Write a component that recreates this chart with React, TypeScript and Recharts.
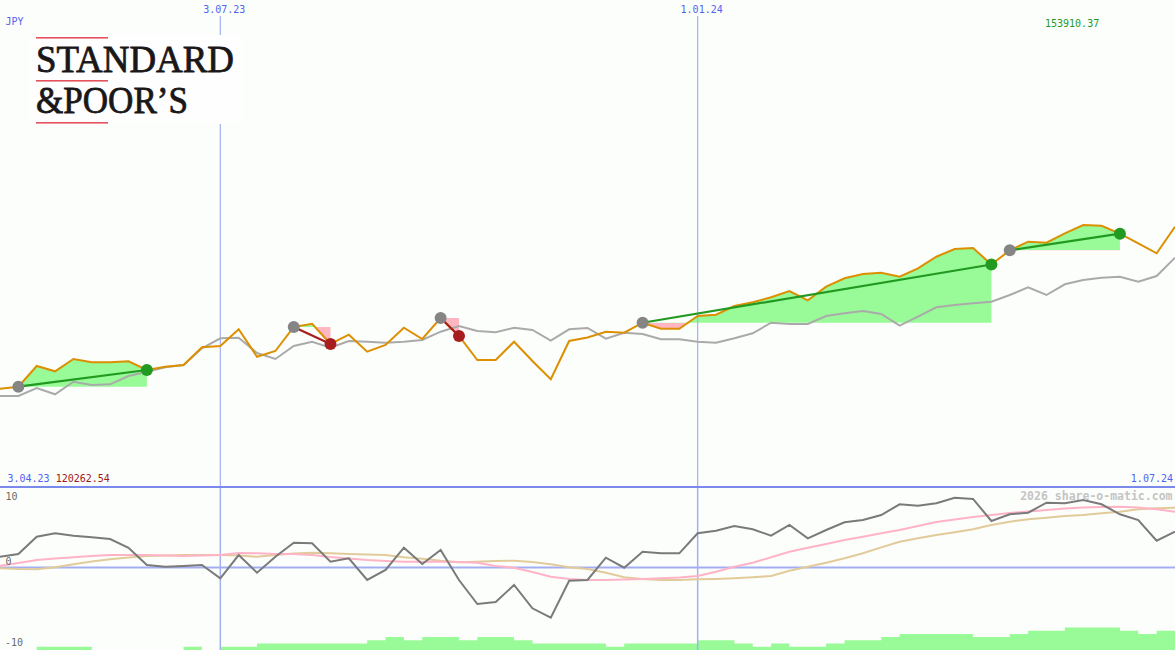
import React from 'react';
import { ComposedChart, Line, Area, XAxis, YAxis, ReferenceLine } from 'recharts';

// ---- data (weekly points, index 0 = 3.04.23, index 64 = 1.07.24) ----
const closePrice = [
  127054, 127192, 128623, 128256, 129106, 128878, 128878, 128947, 128346, 128574,
  128692, 129915, 130005, 131158, 129265, 129659, 131317, 131545, 130143, 130785,
  129611, 130074, 131269, 130488, 131939, 130695, 129037, 129037, 130302, 128968,
  127704, 130350, 130592, 130993, 130923, 131614, 131200, 131200, 132077, 132167,
  132768, 133024, 133369, 133805, 133162, 134102, 134682, 134979, 135069, 134793,
  135373, 136174, 136706, 136776, 135636, 136617, 137211, 137142, 137791, 138365,
  138316, 137764, 137100, 136409, 138247,
];
const movingAverage = [
  126550, 126550, 127103, 126667, 127538, 127310, 127358, 127932, 128229, 128533,
  128692, 129846, 130537, 130578, 129521, 129106, 130005, 130302, 129887, 130350,
  130302, 130233, 130302, 130419, 130993, 131386, 131041, 130951, 131269, 131110,
  130371, 131158, 131248, 130509, 130923, 130834, 130467, 130467, 130302, 130233,
  130537, 130882, 131614, 131525, 131525, 132077, 132264, 132423, 132215, 131407,
  132029, 132678, 132837, 132955, 133065, 133528, 134060, 133528, 134267, 134565,
  134724, 134793, 134447, 134841, 136105,
];
const oscillator = [
  1.64, 2.05, 4.69, 5.21, 4.84, 4.6, 4.34, 3.01, 0.38, 0.12,
  0.23, 0.38, -1.64, 1.9, -0.79, 1.64, 3.77, 3.68, 0.88, 1.4,
  -1.9, -0.38, 3.01, 0.53, 2.66, -1.9, -5.56, -5.25, -2.66, -6.21,
  -7.63, -2.01, -1.9, 1.49, -0.03, 2.4, 2.16, 2.16, 5.21, 5.6,
  6.32, 5.81, 4.84, 6.47, 4.44, 5.71, 6.88, 7.23, 7.99, 9.62,
  9.41, 9.77, 10.62, 10.43, 7.08, 8.1, 8.34, 9.86, 9.77, 10.27,
  9.62, 8.1, 7.23, 4.08, 5.45,
];
const signalFast = [
  0.27, 0.68, 1.14, 1.37, 1.55, 1.75, 1.9, 1.9, 1.9, 1.83,
  1.75, 1.83, 1.9, 2.21, 2.16, 2.05, 2.05, 1.9, 1.6, 1.37,
  1.14, 0.99, 0.88, 0.88, 0.88, 0.84, 0.73, 0.23, -0.03, -0.68,
  -1.4, -1.75, -1.9, -1.9, -1.83, -1.75, -1.64, -1.52, -1.29, -0.64,
  0.12, 0.73, 1.55, 2.4, 3.01, 3.58, 4.19, 4.69, 5.21, 5.71,
  6.32, 6.93, 7.31, 7.69, 7.99, 8.3, 8.52, 8.75, 8.98, 9.13,
  9.21, 9.25, 9.13, 8.86, 8.49,
];
const signalSlow = [
  -0.12, -0.23, -0.27, 0.03, 0.49, 0.91, 1.25, 1.52, 1.75, 1.83,
  1.9, 1.9, 1.9, 1.83, 1.64, 1.9, 2.13, 2.25, 2.16, 2.05,
  1.98, 1.9, 1.55, 1.34, 1.03, 0.79, 0.88, 0.99, 1.03, 0.84,
  0.49, 0.03, -0.23, -0.79, -1.49, -1.75, -1.9, -1.9, -1.8, -1.75,
  -1.64, -1.49, -1.29, -0.49, 0.12, 0.73, 1.4, 2.16, 3.07, 3.93,
  4.44, 4.95, 5.36, 5.81, 6.47, 6.97, 7.34, 7.58, 7.84, 7.99,
  8.25, 8.49, 8.86, 9.01, 9.1,
];
const volumeLevel = [
  0, 0, 1, 1, 1, 0, 0, 0, 0, 0,
  1, 0, 1, 1, 2, 2, 2, 2, 2, 2,
  3, 4, 3, 4, 4, 3, 4, 4, 3, 2,
  2, 2, 2, 1, 2, 2, 2, 2, 3, 3,
  2, 1, 2, 1, 1, 2, 3, 3, 4, 5,
  5, 5, 5, 4, 4, 5, 6, 6, 7, 7,
  7, 6, 5, 6, 6,
];
// trades: buy / sell week index
const trades = [
  { buy: 1, sell: 8 },
  { buy: 16, sell: 18 },
  { buy: 24, sell: 25 },
  { buy: 35, sell: 54 },
  { buy: 55, sell: 61 },
];
const dateMarks = [
  { index: 12, label: '3.07.23' },
  { index: 38, label: '1.01.24' },
];
const startLabel = '3.04.23';
const endLabel = '1.07.24';
const currency = 'JPY';
const highLabel = '153910.37';
const lowLabel = '120262.54';
const oscLabels = ['10', '0', '-10'];
const watermark = '2026 share-o-matic.com';

// ---- layout constants ----
const W = 1175;
const TOP_H = 487;
const BOT_TOP = 488;
const BOT_H = 162;
const PRICE_DOMAIN: [number, number] = [120262.54, 152805.87];
const OSC_DOMAIN: [number, number] = [-12.557, 12.1];
const VOL_DOMAIN: [number, number] = [0, 50.3];
const LAST = closePrice.length - 1;

const BG = '#fcfefc';
const ORANGE = '#dc8f00';
const MA_GRAY = '#aaaaaa';
const WIN = '#229a22';
const LOSS = '#a61e1e';
const GREEN_FILL = '#98fb98';
const PINK_FILL = '#ffb6c1';
const VLINE = '#a2b0f2';
const FONT = '"DejaVu Sans Mono", monospace';
const LOGO_FONT = '"Liberation Serif", "Times New Roman", serif';

const tradeInfo = trades.map((t) => {
  const seg = closePrice.slice(t.buy, t.sell + 1);
  const buyPx = closePrice[t.buy];
  const hi = Math.max(...seg);
  const lo = Math.min(...seg);
  const off = hi === lo ? 0.5 : (hi - buyPx) / (hi - lo);
  return { ...t, buyPx, off, win: closePrice[t.sell] > buyPx };
});

const rows = closePrice.map((p, i) => {
  const row: any = {
    i,
    price: p,
    ma: movingAverage[i],
    osc: oscillator[i],
    fast: signalFast[i],
    slow: signalSlow[i],
    vol: volumeLevel[i],
  };
  tradeInfo.forEach((t, k) => {
    if (i >= t.buy && i <= t.sell) row['fill' + k] = [t.buyPx, p];
    if (i === t.buy || i === t.sell) row['trade' + k] = p;
  });
  return row;
});

const makeDot = (t: any) => (props: any) => {
  const { cx, cy, index } = props;
  if (cy == null || cx == null || (index !== t.buy && index !== t.sell)) {
    return <g key={`d${index}`} />;
  }
  const color = index === t.buy ? '#858585' : t.win ? WIN : LOSS;
  return <circle key={`d${index}`} cx={cx} cy={cy} r={6} fill={color} />;
};

export default function App() {
  return (
    <div style={{ position: 'absolute', left: 0, top: 0, width: W, height: 650, background: BG, overflow: 'hidden' }}>
      <div style={{ position: 'absolute', left: 0, top: 0 }}>
        <ComposedChart width={W} height={TOP_H} data={rows} margin={{ top: 16, right: 0, bottom: 0, left: 0 }}>
          <defs>
            {tradeInfo.map((t, k) => (
              <linearGradient key={k} id={`tg${k}`} x1="0" y1="0" x2="0" y2="1">
                <stop offset={0} stopColor={GREEN_FILL} />
                <stop offset={t.off} stopColor={GREEN_FILL} />
                <stop offset={t.off} stopColor={PINK_FILL} />
                <stop offset={1} stopColor={PINK_FILL} />
              </linearGradient>
            ))}
          </defs>
          <XAxis dataKey="i" type="number" domain={[0, LAST]} hide />
          <YAxis domain={PRICE_DOMAIN} hide />
          {dateMarks.map((d) => (
            <ReferenceLine key={d.label} x={d.index} stroke={VLINE} strokeWidth={1.2} />
          ))}
          {tradeInfo.map((t, k) => (
            <Area
              key={'f' + k}
              dataKey={'fill' + k}
              type="linear"
              stroke="none"
              fill={`url(#tg${k})`}
              fillOpacity={1}
              isAnimationActive={false}
            />
          ))}
          <Line dataKey="ma" type="linear" stroke={MA_GRAY} strokeWidth={2} dot={false} isAnimationActive={false} />
          <Line dataKey="price" type="linear" stroke={ORANGE} strokeWidth={2} dot={false} isAnimationActive={false} />
          {tradeInfo.map((t, k) => (
            <Line
              key={'t' + k}
              dataKey={'trade' + k}
              type="linear"
              connectNulls
              stroke={t.win ? WIN : LOSS}
              strokeWidth={2.2}
              dot={makeDot(t)}
              activeDot={false}
              isAnimationActive={false}
            />
          ))}
        </ComposedChart>
      </div>
      <div style={{ position: 'absolute', left: 0, top: BOT_TOP }}>
        <ComposedChart width={W} height={BOT_H} data={rows} margin={{ top: 0, right: 0, bottom: 0, left: 0 }}>
          <XAxis dataKey="i" type="number" domain={[0, LAST]} hide />
          <YAxis yAxisId="o" domain={OSC_DOMAIN} hide />
          <YAxis yAxisId="v" domain={VOL_DOMAIN} hide />
          <Area
            yAxisId="v"
            dataKey="vol"
            type="stepAfter"
            stroke="none"
            fill={GREEN_FILL}
            fillOpacity={1}
            isAnimationActive={false}
          />
          <ReferenceLine yAxisId="o" y={0} stroke="#a3aef2" strokeWidth={2} />
          {dateMarks.map((d) => (
            <ReferenceLine key={d.label} yAxisId="o" x={d.index} stroke={VLINE} strokeWidth={1.5} />
          ))}
          <Line yAxisId="o" dataKey="slow" type="linear" stroke="#e2cb9a" strokeWidth={2} dot={false} isAnimationActive={false} />
          <Line yAxisId="o" dataKey="fast" type="linear" stroke="#ffb3c6" strokeWidth={2} dot={false} isAnimationActive={false} />
          <Line yAxisId="o" dataKey="osc" type="linear" stroke="#7a7a7a" strokeWidth={2} dot={false} isAnimationActive={false} />
        </ComposedChart>
      </div>
      <div style={{ position: 'absolute', left: 0, top: 486, width: W, height: 2, background: '#7b88ec' }} />
      <svg width={W} height={650} style={{ position: 'absolute', left: 0, top: 0, pointerEvents: 'none' }}>
        {/* logo */}
        <rect x={30} y={35} width={212} height={89} fill="#fefefe" />
        <rect x={36} y={37} width={72} height={1.6} fill="#e4525c" />
        <rect x={36} y={80} width={72} height={1.6} fill="#e4525c" />
        <rect x={36} y={122} width={72} height={1.6} fill="#e4525c" />
        <text x={36} y={71.5} fontFamily={LOGO_FONT} fontSize={38} fill="#1a1718" stroke="#1a1718" strokeWidth={0.8}
          textLength={198} lengthAdjust="spacingAndGlyphs">STANDARD</text>
        <text x={36} y={112.5} fontFamily={LOGO_FONT} fontSize={38} fill="#1a1718" stroke="#1a1718" strokeWidth={0.8}
          textLength={152} lengthAdjust="spacingAndGlyphs">&amp;POOR’S</text>
        {/* labels */}
        <text x={5.5} y={25} fontFamily={FONT} fontSize={10} fill="#5262f0">{currency}</text>
        {dateMarks.map((d) => (
          <text key={d.label} x={(d.index / LAST) * W + 4} y={13} textAnchor="middle" fontFamily={FONT} fontSize={10} fill="#5262f0">
            {d.label}
          </text>
        ))}
        <text x={1045} y={27} fontFamily={FONT} fontSize={10} fill="#1f9a1f">{highLabel}</text>
        <text x={7.5} y={482} fontFamily={FONT} fontSize={10} fill="#5262f0" xmlSpace="preserve">
          {startLabel + ' '}
          <tspan fill="#a01818">{lowLabel}</tspan>
        </text>
        <text x={1173} y={482} textAnchor="end" fontFamily={FONT} fontSize={10} fill="#5262f0">{endLabel}</text>
        <text x={5.5} y={499.5} fontFamily={FONT} fontSize={10} fill="#6a6a6a">{oscLabels[0]}</text>
        <text x={5.5} y={565} fontFamily={FONT} fontSize={10} fill="#6a6a6a">{oscLabels[1]}</text>
        <text x={5} y={646} fontFamily={FONT} fontSize={10} fill="#6a6a6a">{oscLabels[2]}</text>
        <text x={1172.5} y={500} textAnchor="end" fontFamily={FONT} fontSize={11.5} fontWeight="bold" fill="#c4c4c4">
          {watermark}
        </text>
      </svg>
    </div>
  );
}
